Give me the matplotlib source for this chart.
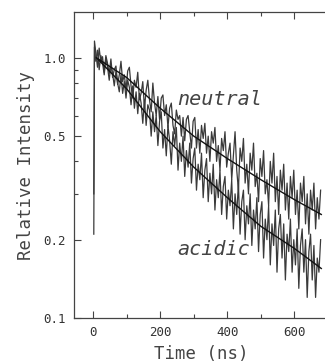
import numpy as np
import matplotlib
matplotlib.use("Agg")
import matplotlib.pyplot as plt
from matplotlib.ticker import FixedLocator, NullFormatter

# отсчёты по времени (нс): фронт + каналы через 5 нс
rise_t = [2, 4]
chan_t = list(range(8, 680, 5))

neutral = [0.21, 1.16,
    1.05, 0.92, 1.09, 0.96, 1.01, 0.88, 1.02, 0.95, 0.87, 0.99, 0.84, 0.90,
    0.93, 0.79, 0.86, 0.97, 0.81, 0.86, 0.75, 0.89, 0.92, 0.78, 0.70, 0.82,
    0.77, 0.88, 0.69, 0.73, 0.81, 0.64, 0.75, 0.82, 0.69, 0.62, 0.80, 0.67,
    0.60, 0.71, 0.58, 0.70, 0.72, 0.60, 0.66, 0.54, 0.64, 0.67, 0.55, 0.51,
    0.63, 0.58, 0.60, 0.50, 0.59, 0.48, 0.58, 0.60, 0.52, 0.45, 0.57, 0.59,
    0.45, 0.53, 0.43, 0.55, 0.49, 0.56, 0.43, 0.50, 0.40, 0.52, 0.47, 0.54,
    0.40, 0.46, 0.37, 0.49, 0.44, 0.52, 0.38, 0.43, 0.47, 0.34, 0.42, 0.52,
    0.37, 0.31, 0.45, 0.40, 0.49, 0.33, 0.39, 0.30, 0.43, 0.37, 0.47, 0.32,
    0.36, 0.28, 0.41, 0.35, 0.44, 0.30, 0.34, 0.27, 0.40, 0.33, 0.43, 0.28,
    0.35, 0.25, 0.37, 0.31, 0.39, 0.26, 0.33, 0.24, 0.35, 0.29, 0.37, 0.25,
    0.31, 0.22, 0.33, 0.28, 0.35, 0.23, 0.30, 0.21, 0.31, 0.26, 0.33, 0.22,
    0.29, 0.24, 0.31]

acidic = [0.30, 1.10,
    0.97, 1.07, 0.90, 1.02, 0.96, 0.86, 1.00, 0.92, 0.82, 0.94, 0.87, 0.78,
    0.89, 0.80, 0.74, 0.86, 0.73, 0.81, 0.70, 0.82, 0.77, 0.66, 0.78, 0.64,
    0.74, 0.61, 0.73, 0.67, 0.56, 0.69, 0.55, 0.66, 0.63, 0.50, 0.62, 0.52,
    0.60, 0.46, 0.57, 0.62, 0.45, 0.53, 0.42, 0.55, 0.48, 0.39, 0.52, 0.46,
    0.54, 0.37, 0.47, 0.40, 0.50, 0.35, 0.44, 0.38, 0.47, 0.33, 0.41, 0.45,
    0.31, 0.39, 0.34, 0.43, 0.29, 0.37, 0.41, 0.28, 0.36, 0.30, 0.39, 0.26,
    0.34, 0.29, 0.37, 0.25, 0.32, 0.35, 0.24, 0.31, 0.27, 0.34, 0.22, 0.30,
    0.25, 0.33, 0.21, 0.28, 0.31, 0.20, 0.27, 0.23, 0.30, 0.19, 0.26, 0.22,
    0.29, 0.18, 0.25, 0.28, 0.17, 0.24, 0.20, 0.27, 0.16, 0.23, 0.19, 0.26,
    0.15, 0.22, 0.25, 0.17, 0.23, 0.14, 0.21, 0.18, 0.24, 0.15, 0.20, 0.16,
    0.22, 0.13, 0.19, 0.22, 0.15, 0.20, 0.12, 0.18, 0.21, 0.14, 0.19, 0.12,
    0.17, 0.15, 0.20]

# аппроксимирующие кривые
fit_t = [10, 100, 200, 300, 400, 500, 600, 680]
fit_neutral = [1.0, 0.84, 0.64, 0.50, 0.41, 0.34, 0.285, 0.25]
fit_acidic = [1.0, 0.76, 0.52, 0.38, 0.29, 0.225, 0.185, 0.155]

yticks = [0.1, 0.2, 0.5, 1.0]
ytick_labels = ["0.1", "0.2", "0.5", "1.0"]
xticks = [0, 200, 400, 600]

mono = "DejaVu Sans Mono"

fig = plt.figure(figsize=(3.25, 3.63), dpi=100)
ax = fig.add_axes([74 / 325, 1 - 318 / 363, 254 / 325, 306 / 363])

t = rise_t + chan_t
ax.plot(t, neutral, color="#3a3a3a", lw=0.9)
ax.plot(t, acidic, color="#3a3a3a", lw=0.9)
ax.plot(fit_t, fit_neutral, color="#111111", lw=1.0)
ax.plot(fit_t, fit_acidic, color="#111111", lw=1.0)

ax.set_yscale("log")
ax.set_ylim(0.1, 1.5)
ax.set_xlim(-57, 700)

ax.yaxis.set_major_locator(FixedLocator(yticks))
ax.set_yticklabels(ytick_labels, family=mono, fontsize=9, color="#333333")
ax.yaxis.set_minor_locator(FixedLocator([0.3, 0.4, 0.6, 0.7, 0.8, 0.9]))
ax.yaxis.set_minor_formatter(NullFormatter())

ax.set_xticks(xticks)
ax.set_xticklabels([str(v) for v in xticks], family=mono, fontsize=9, color="#333333")
ax.xaxis.set_minor_locator(FixedLocator([100, 300, 500]))

ax.tick_params(which="both", direction="in", top=True, color="#444444")
ax.tick_params(which="major", length=5, width=0.8, pad=6)
ax.tick_params(which="minor", length=3, width=0.8)

for s in ["left", "bottom", "top"]:
    ax.spines[s].set_color("#444444")
    ax.spines[s].set_linewidth(0.9)
ax.spines["right"].set_visible(False)

ax.set_ylabel("Relative Intensity", family=mono, fontsize=12.5, color="#444444", labelpad=6)
ax.set_xlabel("Time (ns)", family=mono, fontsize=12.5, color="#444444", labelpad=4)

ax.text(250, 0.69, "neutral", family=mono, style="italic", fontsize=14.5,
        color="#444444", va="center")
ax.text(250, 0.183, "acidic", family=mono, style="italic", fontsize=14.5,
        color="#444444", va="center")

fig.savefig("out.png", dpi=100)
